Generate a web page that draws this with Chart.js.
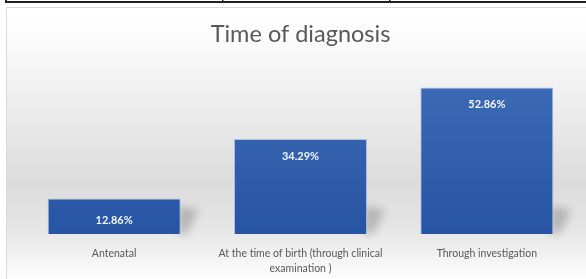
<!DOCTYPE html>
<html>
<head>
<meta charset="utf-8">
<script src="https://cdn.jsdelivr.net/npm/chart.js@4/dist/chart.umd.min.js"></script>
<style>
html,body{margin:0;padding:0;background:#fff;}
#wrap{position:relative;width:586px;height:279px;}
</style>
</head>
<body>
<div id="wrap"><canvas id="c" width="586" height="279"></canvas></div>
<script>
const title = 'Time of diagnosis';
const categories = [
  ['Antenatal'],
  ['At the time of birth (through clinical', 'examination )'],
  ['Through investigation']
];
const values = [12.86, 34.29, 52.86];
const valueLabels = ['12.86%', '34.29%', '52.86%'];

const frame = {
  id: 'frame',
  beforeDraw(chart) {
    const ctx = chart.ctx;
    ctx.save();
    const g = ctx.createLinearGradient(0, 7, 0, 279);
    g.addColorStop(0, '#ffffff');
    g.addColorStop(0.12, '#fbfbfb');
    g.addColorStop(0.65, '#dcdcdc');
    g.addColorStop(0.82, '#e6e6e6');
    g.addColorStop(1, '#fdfdfd');
    ctx.fillStyle = g;
    ctx.fillRect(6, 7, 580, 272);
    ctx.strokeStyle = '#d9d9d9';
    ctx.lineWidth = 1;
    ctx.strokeRect(6.5, 7.5, 600, 300);
    // table lines above
    ctx.fillStyle = '#222';
    ctx.fillRect(5, 1, 581, 2);
    ctx.fillRect(5, 0, 2, 3);
    ctx.fillRect(222, 0, 1.5, 3);
    ctx.fillRect(389, 0, 1.5, 3);
    ctx.restore();
  },
  beforeDatasetsDraw(chart) {
    const ctx = chart.ctx;
    const meta = chart.getDatasetMeta(0);
    ctx.save();
    ctx.filter = 'blur(4px)';
    meta.data.forEach(bar => {
      const r = bar.x + bar.width / 2;
      const b = bar.base;
      const h = Math.min(28, b - bar.y);
      ctx.fillStyle = 'rgba(0,0,0,0.2)';
      ctx.beginPath();
      ctx.moveTo(r - 3, b);
      ctx.lineTo(r - 3, b - h);
      ctx.lineTo(r + 18, b - h + 4);
      ctx.lineTo(r + 6, b);
      ctx.closePath();
      ctx.fill();
    });
    ctx.restore();
  },
  afterDatasetsDraw(chart) {
    const ctx = chart.ctx;
    const meta = chart.getDatasetMeta(0);
    ctx.save();
    ctx.fillStyle = '#f2f5fb';
    ctx.font = 'bold 11px Lato, "Open Sans", sans-serif';
    ctx.textAlign = 'center';
    ctx.textBaseline = 'middle';
    meta.data.forEach((bar, i) => {
      const h = bar.base - bar.y;
      const y = h < 50 ? bar.y + h / 2 + 4 : bar.y + 17;
      ctx.fillText(valueLabels[i], bar.x, y);
    });
    ctx.restore();
  }
};

function barGradient(context) {
  const chart = context.chart;
  const { ctx, chartArea } = chart;
  if (!chartArea) return '#3a66b2';
  const el = context.element;
  const top = el && el.y !== undefined ? el.y : chartArea.top;
  const bottom = chartArea.bottom;
  const g = ctx.createLinearGradient(0, top, 0, bottom);
  g.addColorStop(0, '#3e6cb6');
  g.addColorStop(1, '#2754a3');
  return g;
}

new Chart(document.getElementById('c'), {
  type: 'bar',
  data: {
    labels: categories,
    datasets: [{
      data: values,
      backgroundColor: barGradient,
      borderColor: 'rgba(150,180,225,0.7)',
      borderWidth: 1,
      borderSkipped: 'bottom',
      categoryPercentage: 1,
      barPercentage: 0.714
    }]
  },
  options: {
    responsive: false,
    animation: false,
    devicePixelRatio: 1,
    layout: { padding: { left: 21, right: 6, top: 7, bottom: 0 } },
    plugins: {
      legend: { display: false },
      tooltip: { enabled: false },
      title: {
        display: true,
        text: title,
        color: '#595959',
        font: { family: 'Lato, "Open Sans", sans-serif', size: 23.5, weight: 'normal', lineHeight: 1.1 },
        padding: { top: 14, bottom: 21 }
      }
    },
    scales: {
      x: {
        grid: { display: false },
        border: { display: false },
        ticks: {
          color: '#595959',
          font: { family: 'Lato, "Open Sans", sans-serif', size: 10.5, lineHeight: '15px' },
          padding: 4,
          maxRotation: 0,
          minRotation: 0,
          autoSkip: false
        },
        afterFit(scale) { scale.height = 45; }
      },
      y: {
        display: false,
        min: 0,
        max: 60
      }
    }
  },
  plugins: [frame]
});
</script>
</body>
</html>
